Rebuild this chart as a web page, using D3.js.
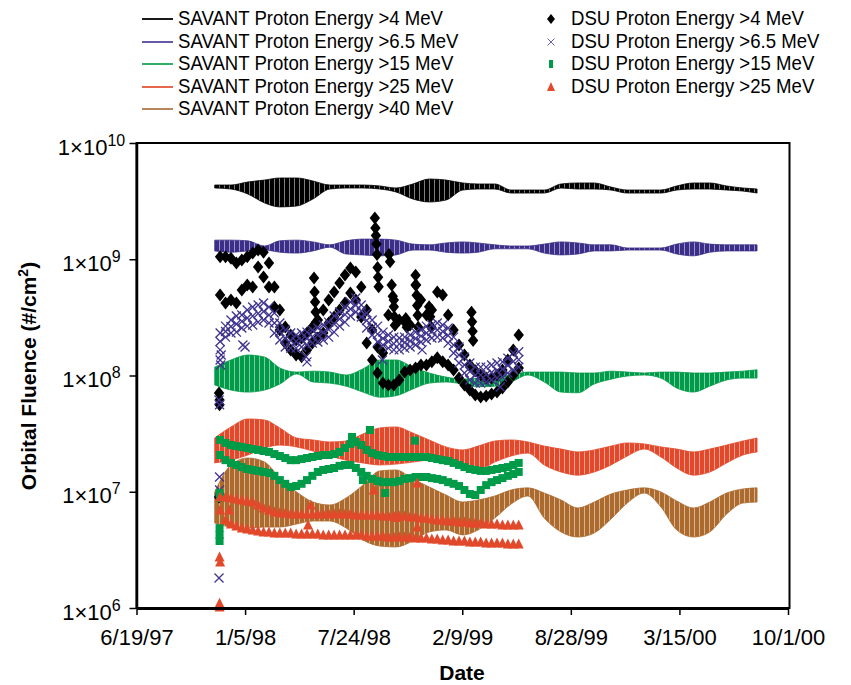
<!DOCTYPE html>
<html><head><meta charset="utf-8">
<script src="https://cdn.jsdelivr.net/npm/d3@7"></script>
<style>
body{margin:0;background:#fff}
svg{display:block}
text{font-family:"Liberation Sans",Arial,Helvetica,sans-serif;fill:#000}
</style>
</head><body>
<svg id="chart" width="851" height="685"></svg>
<script>
// ---------------- DATA ----------------
const xTickLabels = ["6/19/97","1/5/98","7/24/98","2/9/99","8/28/99","3/15/00","10/1/00"];
const yTickValues = [1e6, 1e7, 1e8, 1e9, 1e10];

// SAVANT model (orbit-to-orbit band: upper / lower envelope)
const savantDates = ["1997-11-10","1997-12-10","1998-01-10","1998-02-10","1998-03-10","1998-04-10","1998-05-10","1998-06-10","1998-07-10","1998-08-10","1998-09-10","1998-10-10","1998-11-10","1998-12-10","1999-01-10","1999-02-10","1999-03-10","1999-04-10","1999-05-10","1999-06-10","1999-07-10","1999-08-10","1999-09-10","1999-10-10","1999-11-10","1999-12-10","2000-01-10","2000-02-10","2000-03-10","2000-04-10","2000-05-10","2000-06-10","2000-07-10","2000-08-05"];
const savant4Hi = [4.35e9,4.35e9,4.62e9,4.80e9,5.00e9,5.00e9,4.71e9,4.35e9,4.35e9,4.35e9,4.27e9,4.10e9,4.44e9,4.90e9,4.80e9,4.53e9,4.44e9,4.44e9,3.94e9,3.94e9,3.94e9,4.44e9,4.53e9,4.53e9,4.18e9,3.94e9,3.94e9,3.94e9,4.27e9,4.53e9,4.53e9,4.27e9,4.10e9,4.02e9];
const savant4Lo = [4.10e9,4.02e9,3.64e9,3.05e9,2.82e9,2.87e9,3.30e9,4.02e9,4.10e9,4.10e9,4.02e9,3.79e9,3.30e9,3.11e9,3.23e9,3.94e9,4.02e9,4.02e9,3.71e9,3.71e9,3.71e9,4.10e9,4.02e9,4.02e9,3.94e9,3.71e9,3.71e9,3.71e9,3.94e9,4.02e9,4.02e9,3.94e9,3.86e9,3.71e9];
const savant65Hi = [1.46e9,1.46e9,1.44e9,1.30e9,1.44e9,1.46e9,1.41e9,1.33e9,1.44e9,1.49e9,1.49e9,1.46e9,1.35e9,1.33e9,1.38e9,1.41e9,1.38e9,1.33e9,1.30e9,1.30e9,1.35e9,1.41e9,1.38e9,1.33e9,1.33e9,1.25e9,1.25e9,1.25e9,1.35e9,1.41e9,1.35e9,1.33e9,1.33e9,1.33e9];
const savant65Lo = [1.18e9,1.15e9,1.18e9,1.20e9,1.15e9,1.13e9,1.18e9,1.27e9,1.11e9,1.09e9,1.07e9,1.09e9,1.20e9,1.20e9,1.15e9,1.13e9,1.15e9,1.23e9,1.23e9,1.23e9,1.13e9,1.09e9,1.11e9,1.18e9,1.18e9,1.20e9,1.20e9,1.20e9,1.11e9,1.07e9,1.15e9,1.18e9,1.18e9,1.18e9];
const savant15Hi = [1.18e8,1.36e8,1.50e8,1.44e8,1.16e8,1.07e8,1.09e8,1.07e8,1.01e8,1.14e8,1.36e8,1.36e8,1.18e8,1.05e8,9.7e7,9.3e7,9.5e7,9.7e7,1.01e8,1.07e8,1.07e8,1.07e8,1.05e8,1.05e8,1.09e8,1.07e8,1.05e8,1.07e8,1.07e8,1.05e8,1.05e8,1.07e8,1.09e8,1.12e8];
const savant15Lo = [8.3e7,7.5e7,7.2e7,7.5e7,8.45e7,1.03e8,8.8e7,8.6e7,8.1e7,7.2e7,6.5e7,6.7e7,7.65e7,8.6e7,8.8e7,8.45e7,8.0e7,8.1e7,8.8e7,1.01e8,8.8e7,7.2e7,7.1e7,8.45e7,9.3e7,9.9e7,1.01e8,9.5e7,7.8e7,7.2e7,8.1e7,9.15e7,9.5e7,9.5e7];
const savant25Hi = [2.90e7,3.61e7,4.23e7,4.14e7,3.54e7,2.90e7,2.79e7,2.68e7,2.73e7,3.14e7,3.54e7,3.61e7,3.20e7,2.79e7,2.43e7,2.29e7,2.47e7,2.73e7,2.79e7,2.68e7,2.47e7,2.33e7,2.20e7,2.29e7,2.47e7,2.63e7,2.58e7,2.43e7,2.33e7,2.20e7,2.33e7,2.52e7,2.73e7,2.90e7];
const savant25Lo = [1.77e7,1.87e7,2.07e7,2.38e7,2.52e7,2.43e7,2.24e7,2.03e7,1.87e7,1.77e7,1.70e7,1.73e7,1.80e7,1.87e7,1.77e7,1.63e7,1.54e7,1.80e7,2.03e7,2.15e7,1.70e7,1.48e7,1.39e7,1.48e7,1.70e7,2.03e7,2.33e7,1.99e7,1.60e7,1.39e7,1.48e7,1.77e7,2.07e7,2.20e7];
const savant40Hi = [9.95e6,1.70e7,1.95e7,1.80e7,1.31e7,9.95e6,8.16e6,7.69e6,8.84e6,1.14e7,1.51e7,1.54e7,1.29e7,1.10e7,9.38e6,8.16e6,8.49e6,9.19e6,1.035e7,1.08e7,9.75e6,8.49e6,7.25e6,8.16e6,9.56e6,1.035e7,1.08e7,9.95e6,8.33e6,7.25e6,8.16e6,9.75e6,1.056e7,1.08e7];
const savant40Lo = [5.38e6,4.97e6,4.88e6,4.97e6,4.97e6,5.28e6,5.60e6,5.60e6,4.88e6,3.85e6,3.41e6,3.35e6,3.77e6,4.51e6,4.69e6,4.25e6,4.69e6,5.94e6,7.84e6,9.19e6,5.94e6,4.51e6,4.08e6,4.42e6,5.83e6,8.00e6,9.75e6,7.39e6,4.69e6,4.08e6,4.51e6,6.43e6,8.00e6,8.16e6];

// DSU measurements (traces per channel + scattered points)
const dsuDates = ["1997-11-20","1997-11-30","1997-12-10","1997-12-20","1997-12-30","1998-01-09","1998-01-19","1998-01-29","1998-02-08","1998-02-18","1998-02-28","1998-03-10","1998-03-20","1998-03-30","1998-04-09","1998-04-19","1998-04-29","1998-05-09","1998-05-19","1998-05-29","1998-06-08","1998-06-18","1998-06-28","1998-07-08","1998-07-18","1998-07-28","1998-08-07","1998-08-17","1998-08-27","1998-09-06","1998-09-16","1998-09-26","1998-10-06","1998-10-16","1998-10-26","1998-11-05","1998-11-15","1998-11-25","1998-12-05","1998-12-15","1998-12-25","1999-01-04","1999-01-14","1999-01-24","1999-02-03","1999-02-13","1999-02-23","1999-03-05","1999-03-15","1999-03-25","1999-04-04","1999-04-14","1999-04-24","1999-05-04","1999-05-14","1999-05-24"];
const dsu4Upper = [1.05e9,1.05e9,1.02e9,9.28e8,9.85e8,1.05e9,1.13e9,1.20e9,1.15e9,9.28e8,5.77e8,3.66e8,2.61e8,2.23e8,2.02e8,2.10e8,2.32e8,2.61e8,3.00e8,3.66e8,4.46e8,5.23e8,6.25e8,7.32e8,8.40e8,7.77e8,5.77e8,3.66e8,2.46e8,1.76e8,1.56e8,3.32e8,4.46e8,3.00e8,2.88e8,2.72e8,6.01e8,4.46e8,3.32e8,3.66e8,5.23e8,4.93e8,3.32e8,2.46e8,1.83e8,1.50e8,1.23e8,1.10e8,1.01e8,9.51e7,9.51e7,1.01e8,1.115e8,1.36e8,1.66e8,2.23e8];
const dsu4Lower = [4.93e8,4.20e8,4.46e8,4.20e8,5.44e8,6.01e8,5.77e8,8.58e8,7.04e8,5.77e8,3.88e8,2.46e8,1.90e8,1.66e8,1.50e8,1.45e8,1.66e8,1.90e8,2.10e8,2.32e8,2.83e8,3.19e8,3.66e8,4.20e8,5.12e8,4.46e8,3.19e8,1.90e8,1.36e8,1.05e8,8.62e7,8.29e7,8.29e7,9.15e7,1.07e8,1.115e8,1.16e8,1.23e8,1.23e8,1.31e8,1.42e8,1.31e8,1.23e8,1.115e8,9.51e7,8.29e7,7.50e7,6.80e7,6.53e7,6.66e7,6.93e7,7.21e7,7.81e7,8.79e7,1.01e8,1.16e8];
const dsu4ExtraDates = ["1997-11-18","1997-11-19","1997-11-19","1997-11-18","1998-05-12","1998-05-13","1998-05-14","1998-05-15","1998-05-16","1998-09-01","1998-09-02","1998-09-03","1998-09-04","1998-09-05","1998-09-06","1998-09-07","1998-09-08","1998-09-27","1998-09-29","1998-10-02","1998-10-04","1998-10-06","1998-10-07","1998-10-08","1998-10-28","1998-10-30","1998-11-15","1998-11-16","1998-11-17","1998-11-18","1998-11-19","1998-11-20","1998-12-10","1998-12-12","1998-12-14","1999-02-26","1999-02-27","1999-02-28","1999-03-01"];
const dsu4ExtraValues = [7.07e7,6.15e7,5.6e7,9.0e6,6.89e8,5.23e8,4.29e8,3.52e8,2.88e8,2.26e9,1.86e9,1.60e9,1.35e9,1.10e9,8.5e8,7.0e8,5.8e8,1.10e9,9.5e8,6.0e8,4.8e8,3.9e8,3.2e8,2.7e8,3.1e8,2.6e8,7.3e8,6.0e8,4.9e8,4.0e8,3.3e8,2.6e8,3.9e8,3.2e8,2.6e8,3.5e8,2.9e8,2.4e8,2.0e8];

const dsu65Upper = [2.32e8,2.66e8,3.00e8,3.25e8,3.32e8,3.66e8,3.88e8,4.04e8,4.20e8,3.88e8,3.45e8,2.83e8,2.46e8,2.32e8,2.23e8,2.32e8,2.36e8,2.46e8,2.56e8,2.72e8,2.88e8,3.25e8,3.52e8,3.88e8,4.29e8,4.64e8,4.04e8,3.45e8,3.00e8,2.66e8,2.36e8,2.23e8,2.14e8,2.10e8,2.14e8,2.23e8,2.36e8,2.46e8,2.66e8,2.72e8,2.83e8,2.72e8,2.56e8,2.14e8,1.76e8,1.44e8,1.28e8,1.18e8,1.18e8,1.18e8,1.23e8,1.28e8,1.31e8,1.41e8,1.56e8,1.60e8];
const dsu65Mid = [1.96e8,2.39e8,2.64e8,2.77e8,2.92e8,3.12e8,3.25e8,3.41e8,3.55e8,3.31e8,2.83e8,2.39e8,2.08e8,2.00e8,1.96e8,2.02e8,2.08e8,2.16e8,2.23e8,2.34e8,2.48e8,2.77e8,3.06e8,3.34e8,3.73e8,4.04e8,3.59e8,2.97e8,2.59e8,2.27e8,2.08e8,1.96e8,1.88e8,1.87e8,1.92e8,1.98e8,2.08e8,2.18e8,2.32e8,2.39e8,2.46e8,2.39e8,2.21e8,1.83e8,1.50e8,1.23e8,1.08e8,1.01e8,1.01e8,1.02e8,1.06e8,1.10e8,1.13e8,1.22e8,1.32e8,1.37e8];
const dsu65Lower = [1.66e8,2.14e8,2.32e8,2.36e8,2.56e8,2.66e8,2.72e8,2.88e8,3.00e8,2.83e8,2.32e8,2.02e8,1.76e8,1.72e8,1.72e8,1.76e8,1.83e8,1.90e8,1.94e8,2.02e8,2.14e8,2.36e8,2.66e8,2.88e8,3.25e8,3.52e8,3.19e8,2.56e8,2.23e8,1.94e8,1.83e8,1.72e8,1.66e8,1.66e8,1.72e8,1.76e8,1.83e8,1.94e8,2.02e8,2.10e8,2.14e8,2.10e8,1.90e8,1.56e8,1.28e8,1.05e8,9.15e7,8.62e7,8.62e7,8.79e7,9.15e7,9.52e7,9.71e7,1.05e8,1.115e8,1.18e8];
const dsu65ExtraDates = ["1997-11-18","1997-11-19","1997-11-19","1997-11-18","1997-11-19","1997-11-20","1997-11-21","1997-11-22","1998-01-01","1998-01-05","1998-04-27","1998-04-29","1998-09-15","1998-11-27","1999-04-20"];
const dsu65ExtraValues = [1.81e6,1.34e7,1.035e7,6.15e7,5.6e7,1.36e8,1.23e8,1.50e8,1.83e8,1.76e8,1.45e8,1.31e8,1.36e8,1.66e8,7.96e7];

const dsu15Upper = [2.79e7,2.63e7,2.52e7,2.47e7,2.43e7,2.38e7,2.33e7,2.29e7,2.24e7,2.20e7,2.11e7,2.03e7,1.95e7,1.87e7,1.87e7,1.91e7,1.95e7,1.99e7,2.03e7,2.07e7,2.07e7,2.11e7,2.20e7,2.38e7,2.58e7,2.68e7,2.52e7,2.29e7,2.15e7,2.07e7,2.03e7,1.99e7,1.99e7,1.99e7,1.99e7,1.99e7,1.99e7,1.99e7,1.99e7,1.95e7,1.91e7,1.87e7,1.84e7,1.77e7,1.70e7,1.63e7,1.57e7,1.54e7,1.51e7,1.51e7,1.54e7,1.57e7,1.60e7,1.63e7,1.70e7,1.77e7];
const dsu15Lower = [2.07e7,1.87e7,1.77e7,1.70e7,1.63e7,1.57e7,1.54e7,1.51e7,1.48e7,1.45e7,1.37e7,1.26e7,1.17e7,1.10e7,1.12e7,1.17e7,1.26e7,1.37e7,1.48e7,1.54e7,1.57e7,1.60e7,1.67e7,1.70e7,1.70e7,1.60e7,1.48e7,1.37e7,1.29e7,1.24e7,1.21e7,1.21e7,1.21e7,1.24e7,1.29e7,1.31e7,1.34e7,1.34e7,1.34e7,1.31e7,1.29e7,1.26e7,1.21e7,1.17e7,1.12e7,1.035e7,9.56e6,9.38e6,1.035e7,1.14e7,1.21e7,1.26e7,1.31e7,1.37e7,1.42e7,1.48e7];
const dsu15ExtraDates = ["1997-11-19","1997-11-20","1997-11-19","1997-11-19","1997-11-19","1998-07-21","1998-08-10","1998-08-23","1998-09-20","1998-11-14"];
const dsu15ExtraValues = [9.75e6,8.84e6,4.87e6,4.25e6,3.77e6,2.96e7,1.26e7,3.40e7,9.75e6,2.75e7];

const dsu25Upper = [9.01e6,9.01e6,8.84e6,8.66e6,8.49e6,8.33e6,8.16e6,7.69e6,7.25e6,6.97e6,6.70e6,6.57e6,6.57e6,6.44e6,6.44e6,6.44e6,6.44e6,6.44e6,6.44e6,6.44e6,6.44e6,6.44e6,6.44e6,6.44e6,6.44e6,6.31e6,6.31e6,6.31e6,6.31e6,6.31e6,6.19e6,6.19e6,6.19e6,6.19e6,6.19e6,6.07e6,6.07e6,5.95e6,5.95e6,5.83e6,5.71e6,5.71e6,5.60e6,5.60e6,5.49e6,5.49e6,5.38e6,5.38e6,5.38e6,5.28e6,5.28e6,5.28e6,5.18e6,5.18e6,5.18e6,5.18e6];
const dsu25Lower = [6.97e6,5.71e6,5.28e6,5.07e6,4.88e6,4.78e6,4.69e6,4.60e6,4.51e6,4.51e6,4.42e6,4.42e6,4.42e6,4.42e6,4.33e6,4.33e6,4.33e6,4.33e6,4.33e6,4.25e6,4.25e6,4.25e6,4.25e6,4.25e6,4.25e6,4.25e6,4.25e6,4.17e6,4.17e6,4.17e6,4.17e6,4.08e6,4.08e6,4.08e6,4.08e6,4.08e6,4.00e6,4.00e6,4.00e6,3.93e6,3.93e6,3.85e6,3.85e6,3.77e6,3.77e6,3.77e6,3.70e6,3.70e6,3.70e6,3.63e6,3.63e6,3.63e6,3.63e6,3.56e6,3.56e6,3.56e6];
const dsu25ExtraDates = ["1997-11-19","1997-11-20","1997-11-19","1997-11-19","1997-12-07","1998-05-01","1998-05-06","1998-08-30","1998-10-10","1998-11-18","1998-11-18"];
const dsu25ExtraValues = [2.74e6,2.49e6,1.10e6,1.02e6,6.97e6,5.18e6,7.69e6,1.035e7,6.0e6,1.19e7,4.97e6];

// ---------------- CHART ----------------
const parse = d3.utcParse("%Y-%m-%d");
const parseTick = d3.utcParse("%m/%d/%y");
const svg = d3.select("#chart");
const L = 136.5, R = 788, T = 143, B = 608;

const x = d3.scaleUtc().domain([parseTick(xTickLabels[0]), parseTick(xTickLabels[xTickLabels.length-1])]).range([L, R]);
const y = d3.scaleLog().domain([1e6, 1e10]).range([B, T]);

const colors = {k:"#000000", b:"#3b2e88", g:"#009b48", r:"#e2492b", o:"#ad6a2d"};

// stripe patterns for the orbit-resolved bands
const defs = svg.append("defs");
Object.entries(colors).forEach(([k,c]) => {
  const p = defs.append("pattern").attr("id","pat-"+k).attr("patternUnits","userSpaceOnUse")
    .attr("width",5).attr("height",20);
  p.append("rect").attr("width",5).attr("height",20).attr("fill",c);
  p.append("rect").attr("x",4.1).attr("width",0.9).attr("height",20).attr("fill","#fff").attr("opacity",0.55);
});

const savant = [
  {key:"k", hi:savant4Hi,  lo:savant4Lo},
  {key:"b", hi:savant65Hi, lo:savant65Lo},
  {key:"g", hi:savant15Hi, lo:savant15Lo},
  {key:"r", hi:savant25Hi, lo:savant25Lo},
  {key:"o", hi:savant40Hi, lo:savant40Lo}
];
const area = d3.area().x(d=>x(d.date)).y0(d=>y(d.lo)).y1(d=>y(d.hi)).curve(d3.curveMonotoneX);
const gBands = svg.append("g");
savant.forEach(s => {
  const data = savantDates.map((d,i)=>({date:parse(d), hi:s.hi[i], lo:s.lo[i]}));
  gBands.append("path").attr("d", area(data)).attr("fill","url(#pat-"+s.key+")")
    .attr("stroke", colors[s.key]).attr("stroke-width",0.8);
});

// markers
const markerPaths = {
  diamond: "M0,-6.5L5.2,0L0,6.5L-5.2,0Z",
  cross: "M-4.5,-4.5L4.5,4.5M-4.5,4.5L4.5,-4.5",
  square: "M-4,-4H4V4H-4Z",
  triangle: "M0,-5.5L5,4.5L-5,4.5Z"
};
function drawMarker(g, type, px, py, color) {
  const p = g.append("path").attr("d", markerPaths[type]).attr("transform", `translate(${px},${py})`);
  if (type === "cross") p.attr("fill","none").attr("stroke",color).attr("stroke-width",1.3);
  else p.attr("fill",color);
  return p;
}
const dsu = [
  {type:"diamond", color:colors.k, traces:[dsu4Upper, dsu4Lower], exD:dsu4ExtraDates, exV:dsu4ExtraValues},
  {type:"cross", color:"#41348f", traces:[dsu65Upper, dsu65Mid, dsu65Lower], exD:dsu65ExtraDates, exV:dsu65ExtraValues},
  {type:"square", color:colors.g, traces:[dsu15Upper, dsu15Lower], exD:dsu15ExtraDates, exV:dsu15ExtraValues},
  {type:"triangle", color:colors.r, traces:[dsu25Upper, dsu25Lower], exD:dsu25ExtraDates, exV:dsu25ExtraValues}
];
const gPts = svg.append("g");
dsu.forEach(s => {
  const g = gPts.append("g");
  s.traces.forEach(tr => tr.forEach((v,i) => drawMarker(g, s.type, x(parse(dsuDates[i])), y(v), s.color)));
  s.exD.forEach((d,i) => drawMarker(g, s.type, x(parse(d)), y(s.exV[i]), s.color));
});

// frame
svg.append("rect").attr("x",L).attr("y",T).attr("width",R-L+1.5).attr("height",B-T)
  .attr("fill","none").attr("stroke","#000").attr("stroke-width",2);

// axes
const xAxis = svg.append("g").attr("transform",`translate(0,${B})`)
  .call(d3.axisBottom(x).tickValues(xTickLabels.map(parseTick)).tickFormat((d,i)=>xTickLabels[i]).tickSize(7).tickSizeOuter(0));
xAxis.select(".domain").attr("stroke-width",3);
xAxis.selectAll(".tick line").attr("stroke-width",1.5);
xAxis.selectAll(".tick text").attr("font-size",22).attr("y",37).attr("dy",0)
  .attr("font-family","'Liberation Sans',Arial,sans-serif");

const yAxis = svg.append("g").attr("transform",`translate(${L},0)`)
  .call(d3.axisLeft(y).tickValues(yTickValues).tickSize(7).tickSizeOuter(0));
yAxis.select(".domain").attr("stroke-width",2.5);
yAxis.selectAll(".tick line").attr("stroke-width",1.5);
yAxis.selectAll(".tick text").each(function(d){
  const t = d3.select(this);
  t.text(null).attr("x",-45).attr("dy",0).attr("y",11).attr("text-anchor","middle")
   .attr("font-size",22).attr("font-family","'Liberation Sans',Arial,sans-serif");
  t.append("tspan").text("1\u00d710");
  t.append("tspan").attr("dy",-9).attr("font-size",16).text(Math.round(Math.log10(d)));
});

// axis titles
svg.append("text").attr("x",462).attr("y",680).attr("text-anchor","middle")
  .attr("font-size",21).attr("font-weight","bold").text("Date");
const yt = svg.append("text").attr("transform","translate(36,376) rotate(-90)")
  .attr("text-anchor","middle").attr("font-size",21).attr("font-weight","bold");
yt.append("tspan").text("Orbital Fluence (#/cm");
yt.append("tspan").attr("dy",-8).attr("font-size",14).text("2");
yt.append("tspan").attr("dy",8).text(")");

// legend
const legendLeft = ["SAVANT Proton Energy >4 MeV","SAVANT Proton Energy >6.5 MeV","SAVANT Proton Energy >15 MeV","SAVANT Proton Energy >25 MeV","SAVANT Proton Energy >40 MeV"];
const legendLeftColors = [colors.k, "#5447a0", "#1aa557", "#e4553a", "#b07a4a"];
const legendRight = ["DSU Proton Energy >4 MeV","DSU Proton Energy >6.5 MeV","DSU Proton Energy >15 MeV","DSU Proton Energy >25 MeV"];
const rowY = [18, 41, 63, 86, 108];
const gl = svg.append("g");
legendLeft.forEach((lab,i) => {
  gl.append("line").attr("x1",142).attr("x2",173).attr("y1",rowY[i]+1).attr("y2",rowY[i]+1)
    .attr("stroke",legendLeftColors[i]).attr("stroke-width",1.8);
  gl.append("text").attr("transform",`translate(178,${rowY[i]+7}) scale(0.93,1)`)
    .attr("font-size",20).text(lab);
});
const legendTypes = ["diamond","cross","square","triangle"];
const legendRightColors = [colors.k, "#6a5fb5", colors.g, colors.r];
const legendMarkerPaths = ["M0,-5L4,0L0,5L-4,0Z","M-3.5,-3.5L3.5,3.5M-3.5,3.5L3.5,-3.5","M-2,-4H2V4H-2Z","M0,-5L4,4L-4,4Z"];
legendRight.forEach((lab,i) => {
  const m = drawMarker(gl, legendTypes[i], 551, rowY[i]+1, legendRightColors[i]);
  m.attr("d", legendMarkerPaths[i]);
  if (legendTypes[i]==="cross") m.attr("stroke-width",1);
  gl.append("text").attr("transform",`translate(571,${rowY[i]+7}) scale(0.93,1)`)
    .attr("font-size",20).text(lab);
});
</script>
</body></html>
